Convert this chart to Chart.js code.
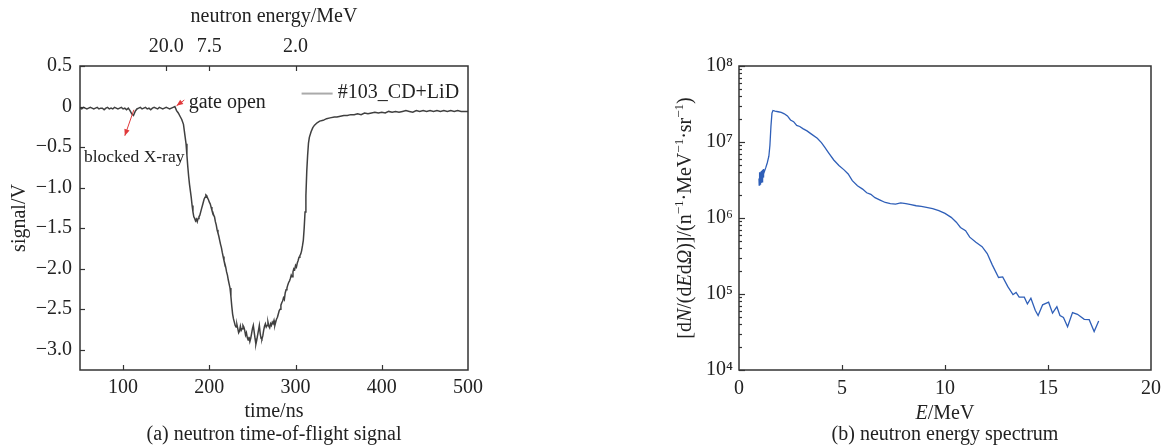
<!DOCTYPE html>
<html>
<head>
<meta charset="utf-8">
<script src="https://cdn.jsdelivr.net/npm/chart.js@4/dist/chart.umd.min.js"></script>
<style>
  body { margin: 0; background: #fff; width: 1169px; height: 448px; position: relative; overflow: hidden; font-family: "Liberation Serif", "Times New Roman", serif; }
  .box { position: absolute; top: 0; height: 448px; }
  #tofBox { left: 0; width: 490px; }
  #specBox { left: 600px; width: 569px; }
  .caption { position: absolute; top: 421px; font-size: 20px; line-height: 24px; color: #222; white-space: nowrap; transform: translateX(-50%); }
</style>
</head>
<body>
<div class="box" id="tofBox"><canvas id="tof"></canvas></div>
<div class="box" id="specBox"><canvas id="spec"></canvas></div>
<div class="caption" style="left:274px">(a) neutron time-of-flight signal</div>
<div class="caption" style="left:945px">(b) neutron energy spectrum</div>
<script>
// (a) time-of-flight trace: [time/ns, signal/V]
const tofSignal = [
  [50,-0.02],[52,-0.03],[54,-0.01],[56,-0.02],[58,-0.03],[60,-0.02],[62,-0.01],[64,-0.02],[66,-0.03],[68,-0.02],
  [70,-0.01],[72,-0.03],[74,-0.02],[76,-0.02],[78,-0.04],[80,-0.02],[82,-0.01],[84,-0.03],[86,-0.02],[88,-0.03],
  [90,-0.01],[92,-0.02],[94,-0.03],[96,-0.02],[98,-0.01],[100,-0.03],[102,-0.02],[104,-0.04],[106,-0.02],[108,-0.05],
  [110,-0.09],[112,-0.11],[114,-0.06],[116,-0.03],[118,-0.02],[120,-0.01],[122,-0.03],[124,-0.02],[126,-0.01],[128,-0.03],
  [130,-0.02],[132,-0.04],[134,-0.02],[136,-0.01],[138,-0.02],[140,-0.03],[142,-0.01],[144,-0.02],[146,-0.03],[148,-0.02],
  [150,-0.01],[152,-0.02],[154,-0.03],[156,-0.02],[158,-0.01],[160,0.00],
  [162,-0.05],[164,-0.08],[166,-0.12],[168,-0.16],[170,-0.22],
  [171,-0.30],[172,-0.38],[173,-0.46],[174,-0.60],[175,-0.74],[176,-0.86],[177,-0.96],[178,-1.04],[179,-1.12],[180,-1.22],
  [181,-1.30],[182,-1.36],[183,-1.38],[184,-1.41],[185,-1.39],[186,-1.42],[187,-1.38],[188,-1.36],[189,-1.34],[190,-1.30],
  [191,-1.26],[192,-1.22],[193,-1.18],[194,-1.14],[195,-1.12],[196,-1.09],[197,-1.10],[198,-1.13],[199,-1.15],[200,-1.18],
  [201,-1.20],[202,-1.24],[203,-1.28],[204,-1.30],[205,-1.34],[206,-1.36],[207,-1.42],[208,-1.46],[209,-1.52],[210,-1.56],
  [211,-1.60],[212,-1.65],[213,-1.70],[214,-1.74],[215,-1.80],[216,-1.85],[217,-1.90],[218,-1.94],[219,-1.98],[220,-2.04],
  [221,-2.08],[222,-2.14],[223,-2.19],[224,-2.24],[225,-2.34],[226,-2.46],[227,-2.56],[228,-2.62],[229,-2.66],[230,-2.70],
  [231,-2.72],[232,-2.69],[233,-2.74],[234,-2.79],[235,-2.77],[236,-2.71],[237,-2.76],[238,-2.74],[239,-2.70],[240,-2.72],
  [241,-2.76],[242,-2.82],[243,-2.79],[244,-2.85],[245,-2.88],[246,-2.84],[247,-2.90],[248,-2.86],[249,-2.80],[250,-2.74],
  [251,-2.70],[252,-2.78],[253,-2.86],[254,-2.93],[255,-2.88],[256,-2.82],[257,-2.76],[258,-2.70],[259,-2.80],[260,-2.86],
  [261,-2.87],[262,-2.83],[263,-2.76],[264,-2.71],[265,-2.68],[266,-2.72],[267,-2.70],[268,-2.66],[269,-2.71],[270,-2.73],
  [271,-2.68],[272,-2.70],[273,-2.66],[274,-2.68],[275,-2.64],[276,-2.70],[277,-2.66],[278,-2.62],[279,-2.60],[280,-2.56],
  [281,-2.52],[282,-2.50],[283,-2.45],[284,-2.42],[285,-2.40],[286,-2.36],[287,-2.38],[288,-2.30],[289,-2.26],[290,-2.24],
  [291,-2.20],[292,-2.17],[293,-2.15],[294,-2.12],[295,-2.08],[296,-2.10],[297,-2.04],[298,-2.00],[299,-2.01],[300,-1.96],
  [301,-1.98],[302,-1.93],[303,-1.90],[304,-1.86],[305,-1.84],[306,-1.82],[307,-1.78],[308,-1.72],[309,-1.65],[310,-1.50],
  [311,-1.30],[312,-1.10],[313,-0.80],[314,-0.60],[315,-0.45],[316,-0.38],[318,-0.31],[320,-0.26],[322,-0.23],[325,-0.20],
  [328,-0.18],[332,-0.17],[336,-0.15],[340,-0.14],[345,-0.13],[348,-0.13],[352,-0.12],[356,-0.11],[360,-0.11],[364,-0.10],
  [368,-0.10],[372,-0.09],[376,-0.10],[380,-0.08],[384,-0.09],[388,-0.08],[392,-0.07],[396,-0.08],[400,-0.07],[404,-0.08],
  [408,-0.06],[412,-0.07],[416,-0.06],[420,-0.07],[424,-0.06],[428,-0.05],[432,-0.06],[436,-0.07],[440,-0.05],[444,-0.06],
  [448,-0.05],[452,-0.06],[456,-0.05],[460,-0.06],[464,-0.05],[468,-0.06],[472,-0.05],[476,-0.06],[480,-0.05],[484,-0.06],
  [488,-0.05],[492,-0.06],[496,-0.06],[500,-0.06]
];
const timeTicks = [100, 200, 300, 400, 500];
const signalTicks = [0.5, 0, -0.5, -1.0, -1.5, -2.0, -2.5, -3.0];
const signalTickLabels = ["0.5", "0", "\u22120.5", "\u22121.0", "\u22121.5", "\u22122.0", "\u22122.5", "\u22123.0"];
const energyTickTimes = [150, 200, 300];
const energyTickLabels = ["20.0", "7.5", "2.0"];

// (b) energy spectrum: [E/MeV, dN/(dE dOmega)]
const spectrum = [
  [0.97,3.3e6],[0.98,2.7e6],[0.99,3.9e6],[1.00,2.8e6],[1.01,4.0e6],[1.02,2.8e6],[1.03,3.9e6],[1.04,2.9e6],[1.05,4.0e6],[1.06,2.8e6],
  [1.07,4.1e6],[1.08,2.9e6],[1.09,4.1e6],[1.10,3.0e6],[1.11,4.2e6],[1.12,3.0e6],[1.13,4.2e6],[1.14,3.1e6],[1.15,4.3e6],[1.16,3.2e6],
  [1.17,4.3e6],[1.18,3.4e6],[1.19,4.4e6],[1.21,3.8e6],[1.25,4.2e6],[1.30,4.6e6],[1.37,5.3e6],[1.45,6.5e6],[1.50,9.0e6],[1.55,1.6e7],
  [1.60,2.4e7],[1.65,2.6e7],[1.75,2.55e7],[1.90,2.5e7],[2.05,2.45e7],[2.20,2.35e7],[2.35,2.2e7],[2.50,1.95e7],[2.65,1.85e7],[2.80,1.65e7],
  [2.95,1.6e7],[3.10,1.5e7],[3.30,1.4e7],[3.50,1.28e7],[3.80,1.12e7],[4.00,9.8e6],[4.15,8.6e6],[4.35,7.2e6],[4.60,5.8e6],[4.85,4.9e6],
  [5.10,4.3e6],[5.30,3.8e6],[5.50,3.1e6],[5.75,2.65e6],[6.00,2.4e6],[6.20,2.15e6],[6.40,2.05e6],[6.60,1.85e6],[6.85,1.72e6],[7.10,1.6e6],
  [7.35,1.55e6],[7.60,1.52e6],[7.85,1.58e6],[8.10,1.55e6],[8.35,1.5e6],[8.60,1.45e6],[8.85,1.42e6],[9.10,1.38e6],[9.40,1.33e6],[9.70,1.25e6],
  [10.0,1.15e6],[10.3,1.02e6],[10.55,8.8e5],[10.75,7.5e5],[11.0,6.8e5],[11.2,5.6e5],[11.5,4.8e5],[11.8,4.2e5],[12.05,3.4e5],[12.3,2.4e5],
  [12.6,1.65e5],[12.8,1.68e5],[13.05,1.25e5],[13.3,9.8e4],[13.45,1.05e5],[13.6,9.1e4],[13.85,9.1e4],[14.0,7.4e4],[14.17,8.8e4],[14.38,6.1e4],
  [14.52,5.2e4],[14.74,7.2e4],[15.03,7.8e4],[15.22,5.6e4],[15.43,6.8e4],[15.58,5.2e4],[15.75,4.9e4],[15.95,3.7e4],[16.19,5.7e4],[16.43,5.4e4],
  [16.76,4.65e4],[17.0,4.6e4],[17.24,3.2e4],[17.46,4.4e4]
];
const energyTicks = [0, 5, 10, 15, 20];
const fluxTicks = [1e4, 1e5, 1e6, 1e7, 1e8];
const fluxTickLabels = ["10\u2074", "10\u2075", "10\u2076", "10\u2077", "10\u2078"];

const FONT = "'Liberation Serif', 'Times New Roman', serif";
const INK = "#222";
const tickFont = { family: FONT, size: 20 };

// frame around the plot area plus inward tick marks
const framePlugin = {
  id: "frame",
  afterDraw(chart, args, opts) {
    const { ctx, chartArea: a } = chart;
    ctx.save();
    ctx.strokeStyle = "#333";
    ctx.lineWidth = 1.5;
    ctx.strokeRect(a.left, a.top, a.right - a.left, a.bottom - a.top);
    ctx.lineWidth = 1.2;
    (opts.marks || []).forEach((m) => {
      const s = chart.scales[m.axis];
      m.values.forEach((v) => {
        const p = Math.round(s.getPixelForValue(v)) + 0.5;
        ctx.beginPath();
        if (s.position === "bottom") { ctx.moveTo(p, a.bottom); ctx.lineTo(p, a.bottom - m.len); }
        else if (s.position === "top") { ctx.moveTo(p, a.top); ctx.lineTo(p, a.top + m.len); }
        else { ctx.moveTo(a.left, p); ctx.lineTo(a.left + m.len, p); }
        ctx.stroke();
      });
    });
    ctx.restore();
  },
};

function arrow(ctx, x1, y1, x2, y2) {
  const ang = Math.atan2(y2 - y1, x2 - x1);
  ctx.beginPath();
  ctx.moveTo(x1, y1);
  ctx.lineTo(x2, y2);
  ctx.stroke();
  ctx.beginPath();
  ctx.moveTo(x2, y2);
  ctx.lineTo(x2 - 7 * Math.cos(ang - 0.4), y2 - 7 * Math.sin(ang - 0.4));
  ctx.lineTo(x2 - 7 * Math.cos(ang + 0.4), y2 - 7 * Math.sin(ang + 0.4));
  ctx.closePath();
  ctx.fill();
}

// legend and red annotations of panel (a)
const tofNotes = {
  id: "tofNotes",
  afterDatasetsDraw(chart) {
    const { ctx } = chart;
    const x = chart.scales.x, y = chart.scales.y;
    ctx.save();
    ctx.strokeStyle = "#aaa";
    ctx.lineWidth = 2;
    ctx.beginPath();
    ctx.moveTo(x.getPixelForValue(307), y.getPixelForValue(0.16));
    ctx.lineTo(x.getPixelForValue(343), y.getPixelForValue(0.16));
    ctx.stroke();
    ctx.fillStyle = INK;
    ctx.font = "20px " + FONT;
    ctx.textBaseline = "middle";
    ctx.fillText(chart.data.datasets[0].label, x.getPixelForValue(349), y.getPixelForValue(0.17));
    ctx.fillText("gate open", x.getPixelForValue(176), y.getPixelForValue(0.05));
    ctx.font = "17.5px " + FONT;
    ctx.fillText("blocked X-ray", x.getPixelForValue(54.5), y.getPixelForValue(-0.63));
    ctx.strokeStyle = "#e0393b";
    ctx.fillStyle = "#e0393b";
    ctx.lineWidth = 1;
    arrow(ctx, x.getPixelForValue(171), y.getPixelForValue(0.08), x.getPixelForValue(162), y.getPixelForValue(0.01));
    arrow(ctx, x.getPixelForValue(112.5), y.getPixelForValue(-0.04), x.getPixelForValue(102), y.getPixelForValue(-0.36));
    ctx.restore();
  },
};

new Chart(document.getElementById("tof"), {
  type: "line",
  data: {
    datasets: [{
      label: "#103_CD+LiD",
      data: tofSignal.map((p) => ({ x: p[0], y: p[1] })),
      borderColor: "#404040",
      borderWidth: 1.5,
      pointRadius: 0,
      tension: 0,
    }],
  },
  options: {
    responsive: true,
    maintainAspectRatio: false,
    animation: false,
    layout: { padding: { left: 0, top: 0, right: 22, bottom: 0 } },
    plugins: {
      legend: { display: false },
      tooltip: { enabled: false },
      frame: {
        marks: [
          { axis: "y", values: signalTicks, len: 5 },
          { axis: "x", values: timeTicks.slice(0, -1), len: 5 },
          { axis: "x2", values: energyTickTimes, len: 5 },
        ],
      },
    },
    scales: {
      x: {
        type: "linear", position: "bottom", min: 50, max: 500,
        afterFit: (s) => { s.height = 78; },
        afterBuildTicks: (s) => { s.ticks = timeTicks.map((v) => ({ value: v })); },
        grid: { display: false, drawTicks: false },
        border: { display: false },
        ticks: { font: tickFont, color: INK, padding: 6, maxRotation: 0, autoSkip: false },
        title: { display: true, text: "time/ns", font: tickFont, color: INK, padding: { top: 0, bottom: 24 } },
      },
      x2: {
        type: "linear", position: "top", min: 50, max: 500,
        afterFit: (s) => { s.height = 66; },
        afterBuildTicks: (s) => { s.ticks = energyTickTimes.map((v) => ({ value: v })); },
        grid: { display: false, drawTicks: false },
        border: { display: false },
        ticks: { font: tickFont, color: INK, padding: 7, maxRotation: 0, autoSkip: false,
          callback: (v, i) => energyTickLabels[i] },
        title: { display: true, text: "neutron energy/MeV", font: tickFont, color: INK, padding: { top: 5, bottom: 0 } },
      },
      y: {
        type: "linear", position: "left", min: -3.25, max: 0.5,
        afterFit: (s) => { s.width = 80; },
        afterBuildTicks: (s) => { s.ticks = signalTicks.map((v) => ({ value: v })); },
        grid: { display: false, drawTicks: false },
        border: { display: false },
        ticks: { font: tickFont, color: INK, padding: 8, autoSkip: false,
          callback: (v, i) => signalTickLabels[i] },
        title: { display: true, text: "signal/V", font: tickFont, color: INK, padding: { top: 8, bottom: 0 } },
      },
    },
  },
  plugins: [framePlugin, tofNotes],
});

// mixed italic / superscript text
function drawRich(ctx, parts, cx, cy, angle) {
  const fontOf = (p) => (p.i ? "italic " : "") + (p.s ? 13 : 20) + "px " + FONT;
  let total = 0;
  parts.forEach((p) => { ctx.font = fontOf(p); total += ctx.measureText(p.t).width; });
  ctx.save();
  ctx.translate(cx, cy);
  ctx.rotate(angle);
  ctx.fillStyle = INK;
  ctx.textAlign = "left";
  ctx.textBaseline = "alphabetic";
  let x = -total / 2;
  parts.forEach((p) => {
    ctx.font = fontOf(p);
    ctx.fillText(p.t, x, p.s ? -2 : 6);
    x += ctx.measureText(p.t).width;
  });
  ctx.restore();
}

const specTitles = {
  id: "specTitles",
  afterDraw(chart) {
    const { ctx, chartArea: a } = chart;
    drawRich(ctx, [
      { t: "[d" }, { t: "N", i: 1 }, { t: "/(d" }, { t: "E", i: 1 }, { t: "d" }, { t: "\u03A9", i: 1 },
      { t: ")]/(n" }, { t: "\u22121", s: 1 }, { t: "\u00B7MeV" }, { t: "\u22121", s: 1 },
      { t: "\u00B7sr" }, { t: "\u22121", s: 1 }, { t: ")" },
    ], a.left - 54, (a.top + a.bottom) / 2, -Math.PI / 2);
    drawRich(ctx, [{ t: "E", i: 1 }, { t: "/MeV" }], (a.left + a.right) / 2, a.bottom + 43, 0);
  },
};

const minorFlux = [];
fluxTicks.slice(0, -1).forEach((d) => { for (let k = 2; k <= 9; k++) minorFlux.push(d * k); });

new Chart(document.getElementById("spec"), {
  type: "line",
  data: {
    datasets: [{
      label: "spectrum",
      data: spectrum.map((p) => ({ x: p[0], y: p[1] })),
      borderColor: "#2f5fb8",
      borderWidth: 1.3,
      pointRadius: 0,
      tension: 0,
    }],
  },
  options: {
    responsive: true,
    maintainAspectRatio: false,
    animation: false,
    layout: { padding: { left: 0, top: 66, right: 18, bottom: 0 } },
    plugins: {
      legend: { display: false },
      tooltip: { enabled: false },
      frame: {
        marks: [
          { axis: "y", values: fluxTicks, len: 6 },
          { axis: "y", values: minorFlux, len: 3 },
          { axis: "x", values: energyTicks.slice(1, -1), len: 5 },
        ],
      },
    },
    scales: {
      x: {
        type: "linear", position: "bottom", min: 0, max: 20,
        afterFit: (s) => { s.height = 78; },
        afterBuildTicks: (s) => { s.ticks = energyTicks.map((v) => ({ value: v })); },
        grid: { display: false, drawTicks: false },
        border: { display: false },
        ticks: { font: tickFont, color: INK, padding: 7, maxRotation: 0, autoSkip: false },
      },
      y: {
        type: "logarithmic", position: "left", min: 1e4, max: 1e8,
        afterFit: (s) => { s.width = 139; },
        afterBuildTicks: (s) => { s.ticks = fluxTicks.map((v) => ({ value: v })); },
        grid: { display: false, drawTicks: false },
        border: { display: false },
        ticks: { font: tickFont, color: INK, padding: 6, autoSkip: false,
          callback: (v, i) => fluxTickLabels[i] },
      },
    },
  },
  plugins: [framePlugin, specTitles],
});
</script>
</body>
</html>
